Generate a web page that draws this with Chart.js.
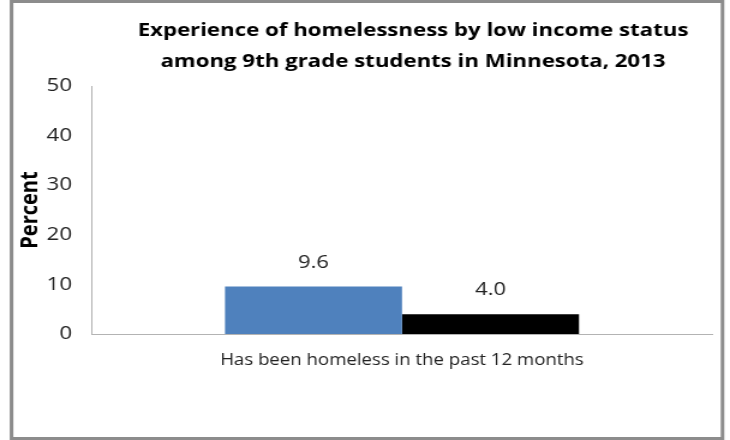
<!DOCTYPE html>
<html>
<head>
<meta charset="utf-8">
<script src="https://cdn.jsdelivr.net/npm/chart.js@4.4.1/dist/chart.umd.min.js"></script>
<style>
  html, body { margin: 0; padding: 0; background: #ffffff; }
  #wrap { position: relative; width: 730px; height: 440px; overflow: hidden; }
  #c { display: block; }
</style>
</head>
<body>
<div id="wrap"><canvas id="c" width="608" height="440" style="width:730px;height:440px"></canvas></div>
<script>
const titleLines = ["Experience of homelessness by low income status", "among 9th grade students in Minnesota, 2013"];
const categories = ["Has been homeless in the past 12 months"];
const seriesNames = ["Low income", "Not low income"];
const lowIncome = [9.6];
const notLowIncome = [4.0];
const yTicks = [0, 10, 20, 30, 40, 50];
const yAxisTitle = "Percent";

const FONT = "'Open Sans'";
// the reference artwork is stretched horizontally; draw on a narrower canvas and widen it with CSS
const SX = 730 / 608;
const sx = v => v / SX;

const frame = {
  id: 'frame',
  beforeDraw(chart) {
    const ctx = chart.ctx;
    ctx.save();
    ctx.fillStyle = '#ffffff';
    ctx.fillRect(0, 0, chart.width, chart.height);
    ctx.strokeStyle = '#8c8c8c';
    ctx.lineWidth = 3;
    ctx.strokeRect(sx(11.5), 1.5, sx(711), 437);
    ctx.restore();
  },
  afterDraw(chart) {
    const ctx = chart.ctx;
    ctx.save();
    ctx.fillStyle = '#000000';
    ctx.font = "bold 18.5px " + FONT;
    ctx.textAlign = 'center';
    ctx.textBaseline = 'middle';
    ctx.fillText(titleLines[0], sx(413), 31);
    ctx.fillText(titleLines[1], sx(413), 62);
    // data labels
    ctx.font = "18.2px " + FONT;
    ctx.fillStyle = '#222222';
    chart.data.datasets.forEach((ds, i) => {
      const meta = chart.getDatasetMeta(i);
      meta.data.forEach((bar, j) => {
        ctx.fillText(ds.data[j].toFixed(1), bar.x, bar.y - 24);
      });
    });
    ctx.restore();
  }
};

new Chart(document.getElementById('c'), {
  type: 'bar',
  data: {
    labels: categories,
    datasets: [
      { label: seriesNames[0], data: lowIncome, backgroundColor: '#4f81bd', categoryPercentage: 0.571, barPercentage: 1.0 },
      { label: seriesNames[1], data: notLowIncome, backgroundColor: '#000000', categoryPercentage: 0.571, barPercentage: 1.0 }
    ]
  },
  options: {
    responsive: false,
    animation: false,
    devicePixelRatio: 1,
    layout: { padding: { left: 0, top: 86, right: 608 - sx(712), bottom: 0 } },
    plugins: {
      legend: { display: false },
      title: { display: false },
      tooltip: { enabled: false }
    },
    scales: {
      x: {
        grid: { display: false, drawTicks: false },
        border: { display: true, color: '#b3b3b3', width: 1 },
        ticks: { color: '#222222', font: { family: FONT, size: 15.5 }, padding: 17 },
        afterFit(scale) { scale.height = 106; }
      },
      y: {
        min: 0, max: 50,
        afterBuildTicks(scale) { scale.ticks = yTicks.map(v => ({ value: v })); },
        grid: { display: false, drawTicks: false },
        border: { display: true, color: '#b3b3b3', width: 1 },
        ticks: { color: '#222222', font: { family: FONT, size: 18.5 }, padding: sx(20) },
        title: { display: true, text: yAxisTitle, color: '#000000', font: { family: FONT, size: 20, weight: 'bold' }, padding: { top: 13, bottom: 0 } },
        afterFit(scale) { scale.width = sx(92); }
      }
    }
  },
  plugins: [frame]
});
</script>
</body>
</html>
